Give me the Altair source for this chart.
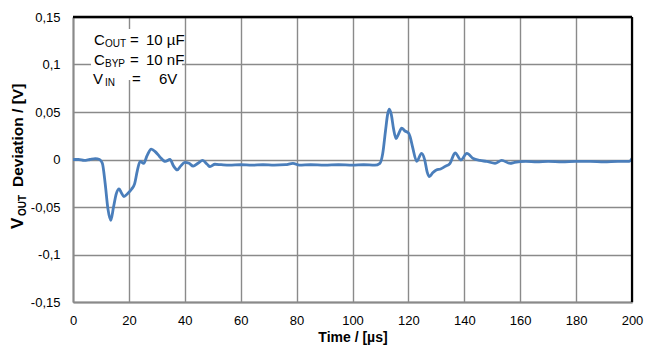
import altair as alt
import pandas as pd

time_us = [0, 2, 4, 6, 8, 9.5, 10.5, 11.5, 12.5, 13.5, 14.5, 15.5, 16.5, 17.3, 18.2, 19.5,
           21, 22, 23, 24, 25.3, 26.5, 28, 29.5, 31, 33, 34.7, 36, 37.3, 38.5, 40, 41.5,
           43, 44.7, 46.4, 48, 49, 50.8, 53, 56, 60, 64, 68, 72, 76, 78.7, 81, 85, 90,
           95, 100, 104, 108, 109.8, 110.8, 111.8, 112.6, 113.2, 113.9, 114.7, 115.6,
           116.5, 117.6, 118.8, 120, 120.6, 121.5, 123, 124.7, 125.8, 126.7, 127.5,
           128.7, 130, 131.5, 133, 134.9, 136.7, 138.8, 140.9, 143.2, 145.6, 148, 151,
           153.4, 156.4, 158, 162, 166, 170, 175, 180, 185, 190, 195, 199, 200]
deviation_v = [0.000, 0.000, -0.001, 0.000, 0.001, 0.000, -0.004, -0.025, -0.052, -0.064,
               -0.050, -0.036, -0.031, -0.035, -0.039, -0.036, -0.031, -0.026, -0.012,
               -0.002, -0.004, 0.004, 0.011, 0.008, 0.003, -0.002, 0.000, -0.007, -0.011,
               -0.007, -0.003, -0.004, -0.007, -0.004, -0.001, -0.005, -0.0075, -0.005,
               -0.0055, -0.006, -0.0055, -0.006, -0.0055, -0.006, -0.0055, -0.004, -0.006,
               -0.0055, -0.006, -0.0055, -0.006, -0.0055, -0.006, -0.004, 0.006, 0.030,
               0.048, 0.053, 0.047, 0.032, 0.022, 0.027, 0.033, 0.030, 0.028, 0.024, 0.013,
               -0.002, 0.0065, 0.000, -0.013, -0.018, -0.014, -0.011, -0.010, -0.0075,
               -0.004, 0.007, -0.0005, 0.0065, 0.001, -0.001, -0.002, -0.004, -0.001,
               -0.004, -0.003, -0.002, -0.0025, -0.002, -0.0025, -0.002, -0.002, -0.0025,
               -0.002, -0.002, 0.001]

x_ticks = [0, 20, 40, 60, 80, 100, 120, 140, 160, 180, 200]
y_ticks = [-0.15, -0.1, -0.05, 0, 0.05, 0.1, 0.15]

df = pd.DataFrame({"t": time_us, "v": deviation_v})

W, H = 559, 285
FONT = "Liberation Sans, Arial, sans-serif"
GRID = "#8a8a8a"

line = alt.Chart(df).mark_line(color="#4a7ebb", strokeWidth=2.8, interpolate="monotone").encode(
    x=alt.X("t:Q", scale=alt.Scale(domain=[0, 200], nice=False),
            axis=alt.Axis(values=x_ticks, grid=True, gridColor=GRID, gridWidth=1.4,
                          domainColor=GRID, domainWidth=2, ticks=False, tickSize=0,
                          labelFont=FONT, labelFontSize=13, labelColor="black",
                          labelPadding=12, labelFlush=False, labelOverlap=False,
                          title="Time / [µs]", titleFont=FONT, titleFontSize=14,
                          titleFontWeight="bold", titleColor="black", titlePadding=3)),
    y=alt.Y("v:Q", scale=alt.Scale(domain=[-0.15, 0.15], nice=False),
            axis=alt.Axis(values=y_ticks, grid=True, gridColor=GRID, gridWidth=1.4,
                          domainColor=GRID, domainWidth=2, ticks=False, tickSize=0,
                          labelFont=FONT, labelFontSize=13, labelColor="black",
                          labelPadding=13, labelFlush=False, labelOverlap=False,
                          labelExpr="(datum.value < 0 ? '-' : '') + replace(format(abs(datum.value), '.2~f'), '.', ',')",
                          title=None)),
)

box = alt.Chart().mark_rect(color="white").encode(
    x=alt.value(18), x2=alt.value(109), y=alt.value(12), y2=alt.value(63))

def txt(s, x, y, size, weight="normal", angle=0):
    return alt.Chart().mark_text(text=s, align="left", baseline="alphabetic", font=FONT,
                                 fontSize=size, fontWeight=weight, color="black",
                                 angle=angle).encode(x=alt.value(x), y=alt.value(y))

ann = [
    txt("C", 21, 28, 15), txt("OUT", 32, 30, 10), txt("=", 57, 28, 15), txt("10 µF", 73, 28, 15),
    txt("C", 21, 48, 15), txt("BYP", 32, 50, 10), txt("=", 57, 48, 15), txt("10 nF", 73, 48, 15),
    txt("V", 20, 66.5, 15), txt("IN", 32, 69, 10), txt("=", 59, 66.5, 15), txt("6V", 86, 66.5, 15),
]

ytitle = [
    txt("V", -50, 212, 17, weight="bold", angle=270),
    txt("OUT", -47, 199, 10, weight="bold", angle=270),
    txt("Deviation / [V]", -50, 170, 15.5, weight="bold", angle=270),
]

top_border = alt.Chart().mark_rule(color="black", strokeWidth=2.6).encode(
    x=alt.value(0), x2=alt.value(W), y=alt.value(0))
right_border = alt.Chart().mark_rule(color="black", strokeWidth=2.2).encode(
    x=alt.value(W), y=alt.value(0), y2=alt.value(H))

chart = alt.layer(line, box, *ann, *ytitle, top_border, right_border).properties(
    width=W, height=H,
    autosize=alt.AutoSizeParams(type="none"),
    padding={"left": 65, "top": 9, "right": 14, "bottom": 46},
).configure_view(stroke=None).configure(background="white")

chart.save("out.html", embed_options={"renderer": "svg", "actions": False})
